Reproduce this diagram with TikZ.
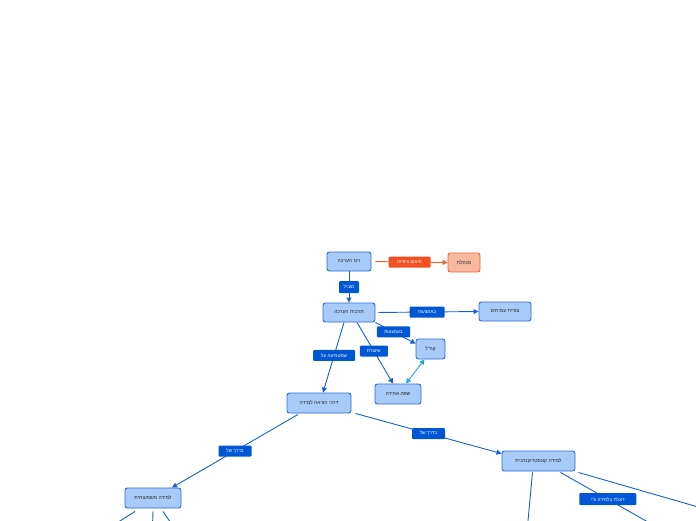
\documentclass[tikz,border=0pt]{standalone}
\usepackage{fontspec}
\newfontfamily\heb[Script=Hebrew]{Liberation Sans}
\TeXXeTstate=1
\usetikzlibrary{arrows.meta}
\definecolor{nodefill}{HTML}{A9CBFA}
\definecolor{nodeline}{HTML}{2A6AD8}
\definecolor{lblfill}{HTML}{0057D6}
\definecolor{edgeblue}{HTML}{1562D6}
\definecolor{orangelbl}{HTML}{F25022}
\definecolor{salmon}{HTML}{F9B9A1}
\definecolor{orangeline}{HTML}{F2612E}
\definecolor{lightarrow}{HTML}{1FA2EE}
\newcommand\hb[1]{\beginR#1\endR}
\begin{document}
\begin{tikzpicture}[x=1pt,y=-1pt,
 topic/.style={draw=nodeline, fill=nodefill, line width=0.9pt, rounded corners=2.5pt,
   minimum height=19pt, inner sep=0pt, font=\heb\fontsize{5}{6}\selectfont, text=black!85},
 lbl/.style={fill=lblfill, text=white, rounded corners=1pt, minimum height=11pt,
   inner xsep=2pt, inner ysep=0pt, font=\heb\fontsize{4.6}{5}\selectfont},
 conn/.style={draw=edgeblue, line width=0.9pt},
 arr/.style={conn, -{Triangle[length=5pt,width=5pt]}},
]
\useasboundingbox (0,0) rectangle (696,520);
\clip (0,0) rectangle (696,520);

\node[topic, minimum width=44pt] (n1) at (349,261.5) {\hb{רכז הערכה}};
\node[topic, minimum width=32pt, fill=salmon, draw=orangeline] (n2) at (464,262.5) {\hb{מנהלת}};
\node[topic, minimum width=52pt] (n3) at (349,312.5) {\hb{תרבות הערכה}};
\node[topic, minimum width=52pt] (n4) at (505,311.5) {\hb{צפיית עמיתים}};
\node[topic, minimum width=29pt, minimum height=20pt] (n5) at (430.5,349) {\hb{קה"ל}};
\node[topic, minimum width=46pt, minimum height=20pt] (n6) at (398,394) {\hb{שפה אחידה}};
\node[topic, minimum width=64pt, minimum height=20pt] (n7) at (319,403) {\hb{דרכי הוראה למידה}};
\node[topic, minimum width=56pt, minimum height=20pt] (n8) at (153,498) {\hb{למידה משמעותית}};
\node[topic, minimum width=73pt, minimum height=20pt] (n9) at (538.5,461) {\hb{למידה קונסטרוקטיבית}};

\coordinate (e1) at (527.5,526);
\coordinate (e2) at (712,511);
\coordinate (e3) at (655,526);
\coordinate (e4) at (112,526);
\coordinate (e5) at (152.5,526);
\coordinate (e6) at (173,526);

\draw[arr, draw=orangeline, shorten <=4pt] (n1.east) -- node[lbl, fill=orangelbl, minimum width=42pt]{\hb{תיאום ציפיות}} (n2.west);
\draw[arr] (n1.south) -- node[lbl, minimum width=20pt, minimum height=12pt]{\hb{מוביל}} (n3.north);
\draw[arr, shorten <=3pt] (n3.east) -- node[lbl, minimum width=35pt]{\hb{באמצעות}} (n4.west);
\draw[arr] (n3.south east) -- node[lbl, minimum width=33pt, pos=0.45]{\hb{באמצעות}} ([yshift=-5pt]n5.north west);
\draw[arr] ([xshift=8pt]n3.south) -- node[lbl, minimum width=28pt, pos=0.47]{\hb{שיוצרת}} ([xshift=-5pt]n6.north);
\draw[arr] ([xshift=-5pt]n3.south) -- node[lbl, minimum width=42pt, pos=0.47]{\hb{שמטמיעה על}} ([xshift=4pt]n7.north);
\draw[conn, draw=lightarrow, {Triangle[length=5pt,width=5pt]}-{Triangle[length=5pt,width=5pt]}] ([xshift=-6pt]n5.south) -- ([xshift=8pt]n6.north);
\draw[arr] ([xshift=-21pt,yshift=-1pt]n7.south) -- node[lbl, minimum width=33pt]{\hb{בדרך של}} ([xshift=19pt]n8.north);
\draw[arr] ([xshift=4pt]n7.south east) -- node[lbl, minimum width=33pt]{\hb{בדרך של}} ([yshift=-3pt]n9.north west);
\draw[conn] ([xshift=-6pt,yshift=-1pt]n9.south) -- (e1);
\draw[conn] ([xshift=3pt,yshift=-1pt]n9.south east) -- (e2);
\draw[conn] ([xshift=22pt,yshift=-1pt]n9.south) -- node[lbl, minimum width=57pt, minimum height=12pt, pos=0.5]{\hb{דוגלת בלמידה ע"י}} (e3);
\draw[conn] ([xshift=-18pt,yshift=-3pt]n8.south) -- (e4);
\draw[conn] ([xshift=0pt,yshift=-3pt]n8.south) -- (e5);
\draw[conn] ([xshift=10pt,yshift=-3pt]n8.south) -- (e6);
\end{tikzpicture}
\end{document}
